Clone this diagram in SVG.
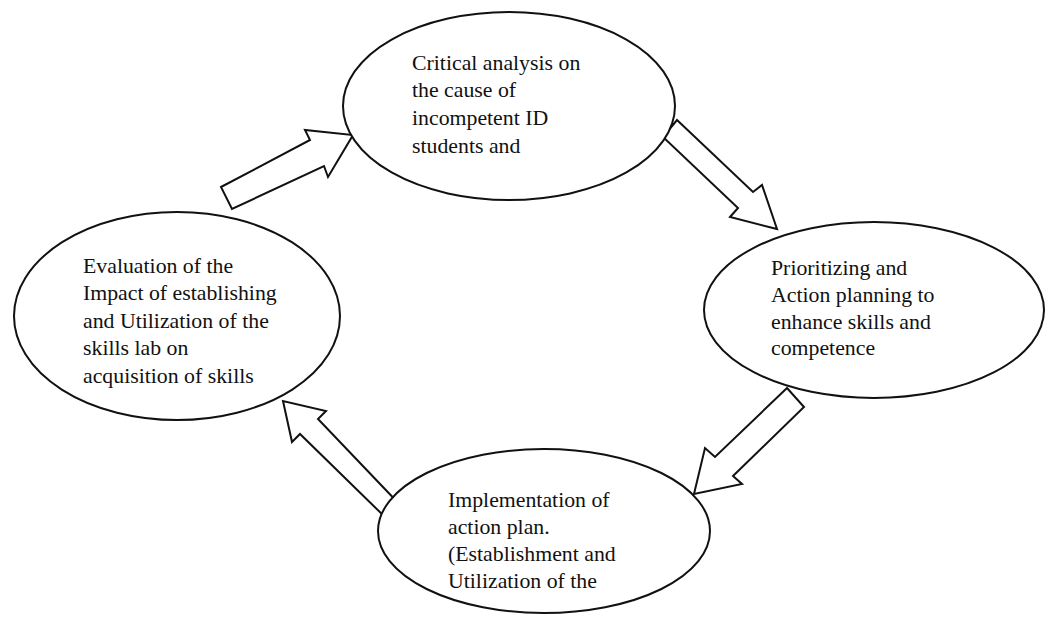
<svg xmlns="http://www.w3.org/2000/svg" width="1048" height="627" viewBox="0 0 1048 627">
<style>
.node ellipse{fill:#fff;stroke:#111;stroke-width:2}
.node text{font-family:"Liberation Serif","Times New Roman",serif;font-size:21.8px;fill:#111}
.arrow{fill:#fff;stroke:#111;stroke-width:2;stroke-linejoin:miter}
</style>
<rect width="1048" height="627" fill="#fff"/>
<g id="connectors">
<polygon class="arrow" points="221,187 310,140 305,130 353,135 328,177 324,166 232,209"/>
<polygon class="arrow" points="677,120 753,192 762,185 777,229 730,217 738,208 663,137"/>
<polygon class="arrow" points="787,388 715,457 705,448 694,494 742,484 733,476 804,407"/>
<polygon class="arrow" points="403,508 318,419 326,411 283,401 292,442 300,434 388,520"/>
</g>
<g id="node-critical" class="node">
<ellipse cx="509" cy="106" rx="166" ry="94"/>
<text x="412" y="70">Critical analysis on</text>
<text x="412" y="97">the cause of</text>
<text x="412" y="125">incompetent ID</text>
<text x="412" y="153">students and</text>
</g>
<g id="node-evaluation" class="node">
<ellipse cx="177" cy="316" rx="163" ry="104"/>
<text x="83" y="273">Evaluation of the</text>
<text x="83" y="300">Impact of establishing</text>
<text x="83" y="328">and Utilization of the</text>
<text x="83" y="355">skills lab on</text>
<text x="83" y="383">acquisition of skills</text>
</g>
<g id="node-prioritizing" class="node">
<ellipse cx="874" cy="310" rx="170" ry="88"/>
<text x="771" y="275">Prioritizing and</text>
<text x="771" y="302">Action planning to</text>
<text x="771" y="329">enhance skills and</text>
<text x="771" y="355">competence</text>
</g>
<g id="node-implementation" class="node">
<ellipse cx="544" cy="531" rx="166" ry="82"/>
<text x="448" y="507">Implementation of</text>
<text x="448" y="534">action plan.</text>
<text x="448" y="561">(Establishment and</text>
<text x="448" y="588">Utilization of the</text>
</g>
</svg>
